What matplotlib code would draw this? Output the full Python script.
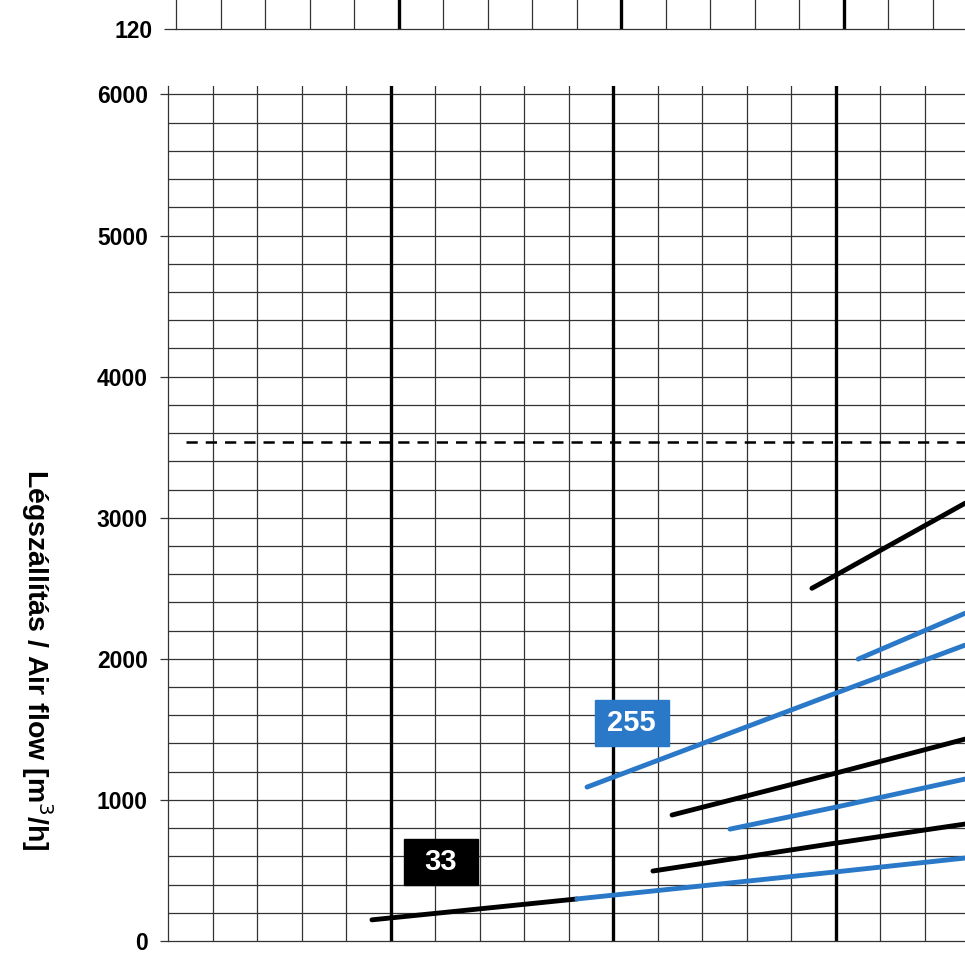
import matplotlib.pyplot as plt
from matplotlib.patches import Rectangle
import numpy as np

BLUE = "#2a78c8"

# main panel: air flow lines (x in grid cells, y in m3/h)
line33_x = [4.58, 9.18]
line33_y = [150, 298]
line33b_x = [9.18, 15.0, 17.9]
line33b_y = [298, 490, 588]
black2_x = [10.89, 15.0, 17.9]
black2_y = [496, 694, 829]
blue3_x = [12.62, 15.0, 17.9]
blue3_y = [793, 949, 1148]
black4_x = [11.32, 15.0, 17.9]
black4_y = [893, 1190, 1431]
blue255_x = [9.41, 15.0, 17.9]
blue255_y = [1091, 1757, 2097]
blue6_x = [15.5, 17.9]
blue6_y = [1998, 2323]
black7_x = [14.46, 15.0, 17.9]
black7_y = [2500, 2593, 3103]

limit_flow = 3540
y_ticks = [0, 1000, 2000, 3000, 4000, 5000, 6000]
top_tick = [120]

series = [
    (line33_x, line33_y, "black"),
    (line33b_x, line33b_y, BLUE),
    (black2_x, black2_y, "black"),
    (blue3_x, blue3_y, BLUE),
    (black4_x, black4_y, "black"),
    (blue255_x, blue255_y, BLUE),
    (blue6_x, blue6_y, BLUE),
    (black7_x, black7_y, "black"),
]

labels = [("33", 6.13, 560, "black"), ("255", 10.41, 1544, BLUE)]

W, H = 965, 972
fig = plt.figure(figsize=(W / 100, H / 100), dpi=100)
plt.rcParams["font.family"] = ["Liberation Sans", "DejaVu Sans"]

cell = 44.53
grid_col = "#333333"


def setup_grid(ax, xmax, pad):
    ax.set_xlim(0, xmax)
    ax.set_xticks([])
    ax.grid(False)
    for x in np.arange(1, xmax, 1):
        thick = int(round(x)) % 5 == 0
        ax.axvline(x, color="black" if thick else grid_col,
                   lw=2.4 if thick else 0.9, zorder=1)
    for side in ("top", "right"):
        ax.spines[side].set_visible(False)
    for side in ("left", "bottom"):
        ax.spines[side].set_color(grid_col)
        ax.spines[side].set_linewidth(0.9)
    ax.tick_params(axis="x", which="both", length=0)
    ax.tick_params(axis="y", which="major", length=6, width=0.9,
                   color=grid_col, pad=pad, labelsize=16.5)
    ax.tick_params(axis="y", which="minor", length=0)
    for t in ax.get_yticklabels():
        t.set_fontweight("bold")


# main panel
left = 168
xmax = (W - left) / cell
ax = fig.add_axes([left / W, (H - 941) / H, (W - left) / W, (941 - 86) / H])
ax.set_ylim(0, 6060)
ax.set_yticks(y_ticks)
ax.set_yticklabels([str(v) for v in y_ticks])
for v in np.arange(200, 6001, 200):
    ax.axhline(v, color=grid_col, lw=0.9, zorder=1)
setup_grid(ax, xmax, 8.5)

ax.plot([0.4, xmax], [limit_flow, limit_flow], color="black", lw=1.8,
        dashes=(4.5, 3.2), zorder=2)

for xs, ys, c in series:
    ax.plot(xs, ys, color=c, lw=3.5, solid_capstyle="round", zorder=3)

bw, bh = 74 / cell, 46 / (855 / 6060)
for txt, cx, cy, c in labels:
    ax.add_patch(Rectangle((cx - bw / 2, cy - bh / 2), bw, bh, color=c, zorder=4))
    ax.text(cx, cy, txt, color="white", fontsize=21, fontweight="bold",
            family=["Liberation Sans Narrow", "Liberation Sans"],
            ha="center", va="center", zorder=5)

fig.text(37 / W, 1 - 660 / H, "Légszállítás / Air flow [m$^3$/h]", rotation=270,
         fontsize=20.5, fontweight="bold", ha="center", va="center")

# top panel (cut off)
left2 = 176
xmax2 = (W - left2) / cell
ax2 = fig.add_axes([left2 / W, 1 - 29 / H, (W - left2) / W, 0.1])
ax2.set_ylim(120, 160)
ax2.set_yticks(top_tick)
ax2.set_yticklabels([str(v) for v in top_tick])
setup_grid(ax2, xmax2, 8)
ax2.tick_params(axis="y", which="major", length=9)
for t in ax2.get_yticklabels():
    t.set_fontweight("bold")
for t in ax.get_yticklabels():
    t.set_fontweight("bold")

fig.savefig("out.png", dpi=100)
